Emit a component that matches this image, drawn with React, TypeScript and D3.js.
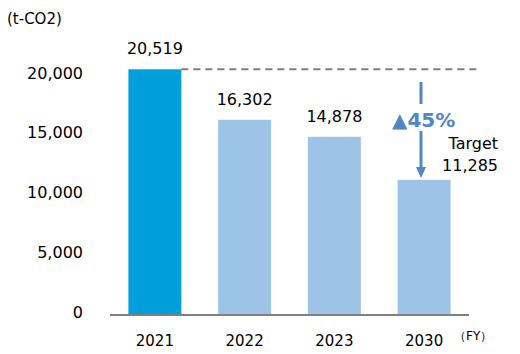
import React from 'react';
import { scaleBand, scaleLinear } from 'd3';

const years = ['2021', '2022', '2023', '2030'];
const emissions = [20519, 16302, 14878, 11285];
const yTicks = [0, 5000, 10000, 15000, 20000];
const unitLabel = '(t-CO2)';
const fyLabel = '（FY）';
const reductionLabel = '▲45%';
const targetLabel = 'Target';

const fmt = (v: number) => v.toLocaleString('en-US');

const App = () => {
  const width = 520;
  const height = 354;
  const font = '"DejaVu Sans", Verdana, sans-serif';

  const x = scaleBand<string>()
    .domain(years)
    .range([110, 469])
    .paddingInner(0.41)
    .paddingOuter(0.205);

  const y = scaleLinear().domain([0, 20000]).range([315, 75.5]);

  const baseY = y(emissions[0]);
  const arrowX = 421;
  const blue = '#4E86C6';

  return (
    <svg width={width} height={height} style={{ position: 'absolute', left: 0, top: 0 }}>
      <text x={7} y={24} fontFamily={font} fontSize={15} fill="#000">{unitLabel}</text>

      {/* y tick labels */}
      {yTicks.map(t => (
        <text key={t} x={83} y={y(t) + 3} textAnchor="end" fontFamily={font} fontSize={16} fill="#000">
          {fmt(t)}
        </text>
      ))}

      {/* bars */}
      {years.map((yr, i) => (
        <rect
          key={yr}
          x={x(yr)}
          y={y(emissions[i])}
          width={x.bandwidth()}
          height={y(0) - y(emissions[i])}
          fill={i === 0 ? '#009FDB' : '#9DC3E6'}
        />
      ))}

      {/* value labels, target bar is labelled separately */}
      {years.slice(0, 3).map((yr, i) => (
        <text
          key={yr}
          x={(x(yr) || 0) + x.bandwidth() / 2}
          y={y(emissions[i]) - 15}
          textAnchor="middle"
          fontFamily={font}
          fontSize={16}
          fill="#000"
        >
          {fmt(emissions[i])}
        </text>
      ))}

      {/* 2021 baseline */}
      <line x1={(x('2021') || 0) + x.bandwidth()} x2={480} y1={baseY} y2={baseY}
        stroke="#7F7F7F" strokeWidth={2} strokeDasharray="7,5" />

      <line x1={110} x2={469} y1={y(0)} y2={y(0)} stroke="#808080" strokeWidth={2} />

      {years.map(yr => (
        <text key={yr} x={(x(yr) || 0) + x.bandwidth() / 2} y={346} textAnchor="middle"
          fontFamily={font} fontSize={15} fill="#000">
          {yr}
        </text>
      ))}
      <text x={454} y={340} fontFamily={font} fontSize={12} fill="#000">{fyLabel}</text>

      {/* reduction arrow */}
      <line x1={arrowX} x2={arrowX} y1={82} y2={104} stroke={blue} strokeWidth={3} />
      <line x1={arrowX} x2={arrowX} y1={131} y2={168} stroke={blue} strokeWidth={3} />
      <path d={`M${arrowX - 5},167 L${arrowX + 5},167 L${arrowX},178 Z`} fill={blue} />
      <text x={392} y={127} fontFamily={font} fontSize={20} fontWeight="bold" fill={blue}>
        {reductionLabel}
      </text>

      <text x={498} y={149} textAnchor="end" fontFamily={font} fontSize={16} fill="#000">{targetLabel}</text>
      <text x={498} y={171} textAnchor="end" fontFamily={font} fontSize={16} fill="#000">{fmt(emissions[3])}</text>
    </svg>
  );
};

export default App;
